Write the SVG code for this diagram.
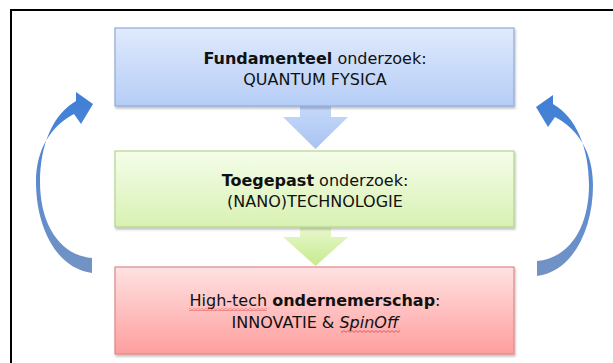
<svg xmlns="http://www.w3.org/2000/svg" width="613" height="363" viewBox="0 0 613 363">
<defs>
<linearGradient id="gBlue" x1="0" y1="0" x2="0" y2="1"><stop offset="0" stop-color="#e0eafd"/><stop offset="1" stop-color="#b5cdf6"/></linearGradient>
<linearGradient id="gGreen" x1="0" y1="0" x2="0" y2="1"><stop offset="0" stop-color="#f5fdea"/><stop offset="1" stop-color="#d8f1b2"/></linearGradient>
<linearGradient id="gRed" x1="0" y1="0" x2="0" y2="1"><stop offset="0" stop-color="#ffe2e2"/><stop offset="1" stop-color="#ff9e9e"/></linearGradient>
<linearGradient id="gArrB" x1="0" y1="0" x2="0" y2="1"><stop offset="0" stop-color="#c6d9fa"/><stop offset="1" stop-color="#a8c3f2"/></linearGradient>
<linearGradient id="gArrG" x1="0" y1="0" x2="0" y2="1"><stop offset="0" stop-color="#e8f8cc"/><stop offset="1" stop-color="#c6ea8e"/></linearGradient>
<linearGradient id="gCurve" x1="0" y1="0" x2="0" y2="1"><stop offset="0" stop-color="#3f7fd6"/><stop offset="0.5" stop-color="#5b8bd0"/><stop offset="1" stop-color="#7393c4"/></linearGradient>
<filter id="sh" x="-5%" y="-5%" width="110%" height="120%"><feDropShadow dx="1" dy="2" stdDeviation="1" flood-color="#000" flood-opacity="0.25"/></filter>
<pattern id="wave" width="4" height="3" patternUnits="userSpaceOnUse"><path d="M0,0.6 L2,2.4 L4,0.6" fill="none" stroke="#e03c3c" stroke-width="0.8"/></pattern>
</defs>
<style>
text{font-family:"DejaVu Sans","Liberation Sans",sans-serif;font-size:16px;fill:#111;text-anchor:middle}
.b{font-weight:bold}
.box{stroke-width:1.2}
</style>
<rect x="11" y="10" width="640" height="400" fill="#fff" stroke="#000" stroke-width="2"/>
<g id="connectors">
<path d="M300,106 H331 V117 H348 L315.5,149 L283,117 H300 Z" fill="url(#gArrB)"/>
<path d="M300,227 H331 V237 H348 L315.5,266 L283,237 H300 Z" fill="url(#gArrG)"/>
<path d="M92,273 C55,268 36,225 36,182 C36,150 50,127 74,114 L81,124 L93,104 L76,92 L76,101 C53,114 40,145 40,182 C40,222 58,255 92,258 Z" fill="url(#gCurve)"/>
<path d="M92,273 C55,268 36,225 36,182 C36,150 50,127 74,114 L81,124 L93,104 L76,92 L76,101 C53,114 40,145 40,182 C40,222 58,255 92,258 Z" transform="translate(629,3) scale(-1,1)" fill="url(#gCurve)"/>
</g>
<g id="node-fundamenteel">
<rect class="box" x="115" y="28" width="399" height="78" fill="url(#gBlue)" stroke="#8fabd9" filter="url(#sh)"/>
<text x="315" y="64"><tspan class="b">Fundamenteel</tspan> onderzoek:</text>
<text x="315" y="85">QUANTUM FYSICA</text>
</g>
<g id="node-toegepast">
<rect class="box" x="115" y="151" width="399" height="76" fill="url(#gGreen)" stroke="#b3d58b" filter="url(#sh)"/>
<text x="315" y="186"><tspan class="b">Toegepast</tspan> onderzoek:</text>
<text x="315" y="207">(NANO)TECHNOLOGIE</text>
</g>
<g id="node-ondernemerschap">
<rect class="box" x="115" y="267" width="399" height="87" fill="url(#gRed)" stroke="#e08787" filter="url(#sh)"/>
<text x="315" y="306">High-tech <tspan class="b">ondernemerschap</tspan>:</text>
<text x="315" y="328">INNOVATIE &amp; <tspan font-style="italic">SpinOff</tspan></text>
<rect x="189" y="308" width="78" height="3" fill="url(#wave)"/>
<rect x="341" y="330" width="59" height="3" fill="url(#wave)"/>
</g>
</svg>
